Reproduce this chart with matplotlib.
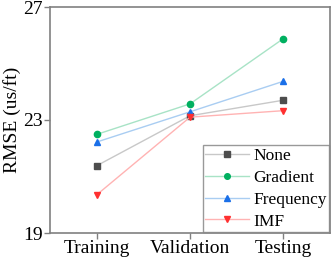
import matplotlib
matplotlib.use("Agg")
import matplotlib.pyplot as plt

plt.rcParams['font.family'] = ['Liberation Serif', 'DejaVu Serif']

categories = ["Training", "Validation", "Testing"]
none_vals = [21.38, 23.15, 23.70]
gradient_vals = [22.49, 23.57, 25.88]
frequency_vals = [22.22, 23.29, 24.37]
imf_vals = [20.35, 23.10, 23.33]

series = [
    ("None", none_vals, "s", "#4d4d4d", "#c8c8c8"),
    ("Gradient", gradient_vals, "o", "#00b060", "#a8e3c6"),
    ("Frequency", frequency_vals, "^", "#1a6fe8", "#a9cdf2"),
    ("IMF", imf_vals, "v", "#ff3030", "#ffb3b3"),
]

FS = 14
fig = plt.figure(figsize=(3.32, 2.64), dpi=100)
ax = fig.add_axes([50/332, 1-233/264, (330-50)/332, (233-7)/264])

x = range(len(categories))
for name, vals, mk, mc, lc in series:
    ax.plot(list(x), vals, color=lc, lw=1.0, marker=mk, markersize=4.5,
            markerfacecolor=mc, markeredgecolor=mc, label=name)

ax.set_xlim(-0.5, 2.5)
ax.set_ylim(19, 27)
ax.set_yticks([19, 23, 27])
ax.set_xticks(list(x))
ax.set_xticklabels(categories)
ax.set_ylabel("RMSE (us/ft)", fontsize=FS, labelpad=2)
ax.tick_params(labelsize=FS, length=4, width=1, color="#808080", pad=1)
for s in ax.spines.values():
    s.set_color("#808080")
    s.set_linewidth(1.2)

leg = ax.legend(loc="lower right", fontsize=12.5, frameon=True, fancybox=False,
                borderpad=0.15, labelspacing=0.33, handlelength=2.5,
                handletextpad=0.25, borderaxespad=0.05, markerscale=0.9)
leg.get_frame().set_edgecolor("#808080")
leg.get_frame().set_linewidth(1.0)

fig.savefig("out.png", dpi=100)
